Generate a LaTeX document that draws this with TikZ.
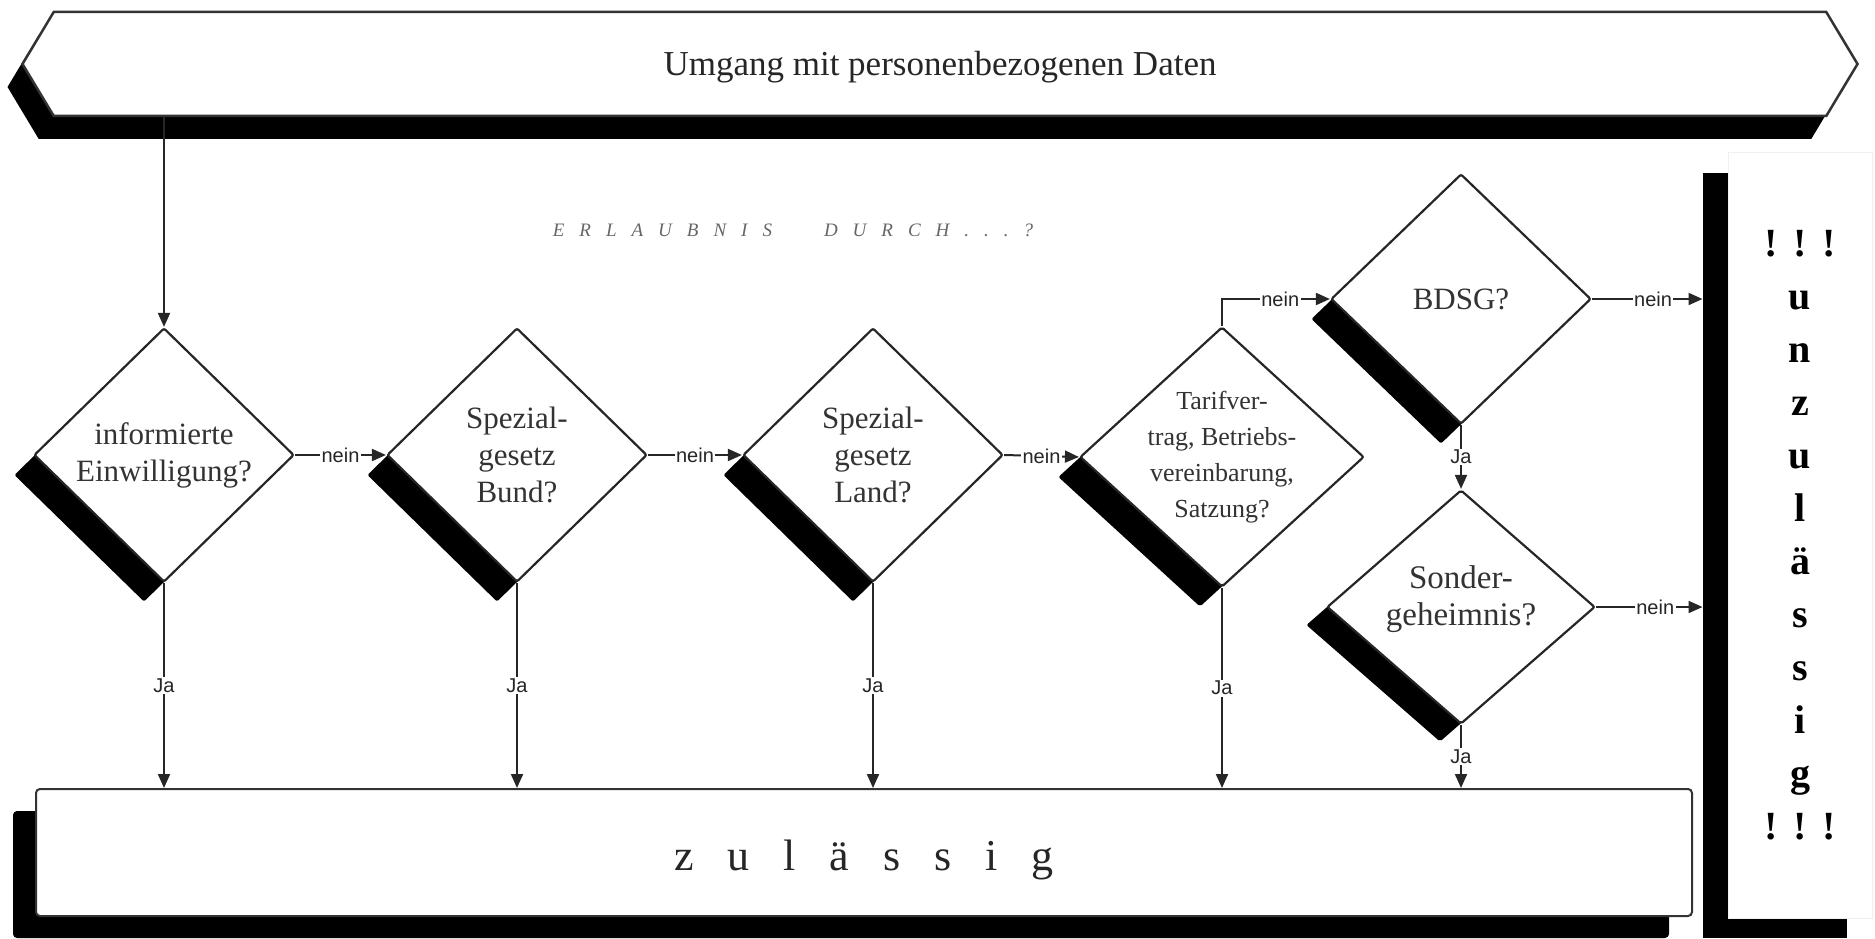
\documentclass[tikz,border=0pt]{standalone}
\usepackage{fontspec}
\setmainfont{Liberation Serif}
\newfontfamily\lblfont{Liberation Sans}
\usetikzlibrary{shapes.geometric,shapes.symbols,shadows,arrows.meta}
\begin{document}
\begin{tikzpicture}[x=1pt,y=-1pt,
  dia/.style={shape=diamond, draw=black!85, line width=2.2pt, fill=white, inner sep=-40pt, align=center, rounded corners=2pt, text=black!80},
  shad/.style 2 args={general shadow={fill=black, shadow xshift=#1, shadow yshift=#2, rounded corners=5pt}},
  arr/.style={draw=black!85, line width=2pt, -{Triangle[length=14pt,width=12pt]}},
  lbl/.style={font=\lblfont\fontsize{20}{22}\selectfont, fill=white, inner sep=1.5pt, text=black!85},
  dtext/.style={font=\fontsize{31}{37}\selectfont},
]
\useasboundingbox (0,0) rectangle (1875,939);

% banner
\node[shape=signal, signal to=west and east, signal pointer angle=118,
      draw=black!80, line width=2.5pt, fill=white, minimum width=1835pt, minimum height=104pt,
      inner sep=0pt, text height=24pt, text depth=0pt,
      general shadow={fill=black, shadow xshift=-15pt, shadow yshift=-23pt, rounded corners=2pt},
      font=\fontsize{35}{40}\selectfont, text=black!85] (top) at (940,64) {Umgang mit personenbezogenen Daten};

% heading
\node[font=\itshape\fontsize{19}{22}\selectfont, text=black!60] (erl) at (793,230)
  {E\hspace{15pt}R\hspace{15pt}L\hspace{15pt}A\hspace{15pt}U\hspace{15pt}B\hspace{15pt}N\hspace{15pt}I\hspace{15pt}S\hspace{52pt}D\hspace{15pt}U\hspace{15pt}R\hspace{15pt}C\hspace{15pt}H\hspace{15pt}.\hspace{15pt}.\hspace{15pt}.\hspace{15pt}?};

% diamonds
\node[dia, dtext, minimum width=260pt, minimum height=254pt, shad={-20pt}{-20pt}] (d1) at (164,455) {informierte\\Einwilligung?};
\node[dia, dtext, minimum width=260pt, minimum height=254pt, shad={-20pt}{-20pt}] (d2) at (517,455) {Spezial-\\gesetz\\Bund?};
\node[dia, dtext, minimum width=260pt, minimum height=254pt, shad={-20pt}{-20pt}] (d3) at (873,455) {Spezial-\\gesetz\\Land?};
\node[dia, font=\fontsize{26}{36}\selectfont, minimum width=284pt, minimum height=260pt, shad={-22pt}{-20pt}] (d4) at (1222,457) {Tarifver-\\trag, Betriebs-\\vereinbarung,\\Satzung?};
\node[dia, dtext, minimum width=260pt, minimum height=250pt, shad={-20pt}{-20pt}] (d5) at (1461,299) {BDSG?};
\node[dia, font=\fontsize{33}{37}\selectfont, minimum width=268pt, minimum height=234pt, shad={-21pt}{-18pt}] (d6) at (1461,607) {Sonder-\\geheimnis?\\[-14pt]};

% result boxes
\node[draw=black!80, line width=2pt, fill=white, rounded corners=4pt, minimum width=1656pt, minimum height=127pt,
      text height=36pt, text depth=0pt,
      general shadow={fill=black, shadow xshift=-23pt, shadow yshift=-22pt, rounded corners=4pt},
      font=\fontsize{44}{50}\selectfont, text=black!85] (z) at (864,852.5)
  {z\hspace{34pt}u\hspace{34pt}l\hspace{34pt}ä\hspace{34pt}s\hspace{34pt}s\hspace{34pt}i\hspace{34pt}g};

\node[draw=black!6, line width=1pt, fill=white, minimum width=144pt, minimum height=765pt, inner sep=0pt,
      general shadow={fill=black, shadow xshift=-25pt, shadow yshift=-20pt, rounded corners=2pt},
      align=center, font=\bfseries\fontsize{40}{53}\selectfont] (u) at (1800,535.5)
  {!\hspace{16pt}!\hspace{16pt}!\\u\\n\\z\\u\\l\\ä\\s\\s\\i\\g\\!\hspace{16pt}!\hspace{16pt}!};

% connectors
\draw[arr] (top.south -| d1.north) -- (d1.north);
\draw[arr] (d1.east) -- node[lbl]{nein} (d2.west);
\draw[arr] (d2.east) -- node[lbl]{nein} (d3.west);
\draw[arr] (d3.east) -- node[lbl]{nein} (d4.west);
\draw[arr] (d4.north) |- node[lbl, pos=0.77]{nein} (d5.west);
\draw[arr, shorten >=25pt] (d5.east) -- node[lbl, pos=0.45]{nein} (d5.east -| u.west);
\draw[arr, shorten >=25pt] (d6.east) -- node[lbl, pos=0.45]{nein} (d6.east -| u.west);
\draw[arr] (d5.south) -- node[lbl]{Ja} (d6.north);
\draw[arr] (d1.south) -- node[lbl]{Ja} (d1.south |- z.north);
\draw[arr] (d2.south) -- node[lbl]{Ja} (d2.south |- z.north);
\draw[arr] (d3.south) -- node[lbl]{Ja} (d3.south |- z.north);
\draw[arr] (d4.south) -- node[lbl]{Ja} (d4.south |- z.north);
\draw[arr] (d6.south) -- node[lbl]{Ja} (d6.south |- z.north);
\end{tikzpicture}
\end{document}
